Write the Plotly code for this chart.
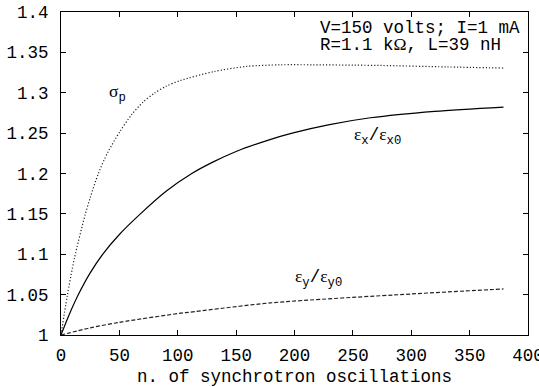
import plotly.graph_objects as go

# sigma_p (dotted)
sig_x = [0, 5.3, 11.5, 20.7, 25, 32, 40, 50.5, 60, 70, 80, 90, 102, 131, 159, 188, 216, 250, 274, 330, 379]
sig_y = [1.0, 1.048, 1.095, 1.149, 1.170, 1.20, 1.226, 1.252, 1.272, 1.288, 1.2995, 1.308, 1.315, 1.3262, 1.3326, 1.3346, 1.3346, 1.3342, 1.3338, 1.332, 1.3306]

# eps_x / eps_x0 (solid)
ex_x = [0, 7, 15, 25, 36, 50, 68, 90, 112, 130, 150, 179, 198, 230, 265, 320, 379]
ex_y = [1.0, 1.0252, 1.0504, 1.0769, 1.1006, 1.1245, 1.150, 1.178, 1.200, 1.2141, 1.2273, 1.2420, 1.25, 1.2605, 1.2690, 1.2770, 1.2823]

# eps_y / eps_y0 (dashed)
ey_x = [0, 25, 50, 100, 115, 179, 300, 379]
ey_y = [1.0, 1.0088, 1.0157, 1.0265, 1.029, 1.0397, 1.0508, 1.057]

x_ticks = [0, 50, 100, 150, 200, 250, 300, 350, 400]
y_ticks = [1.0, 1.05, 1.1, 1.15, 1.2, 1.25, 1.3, 1.35, 1.4]
y_tick_text = ["1", "1.05", "1.1", "1.15", "1.2", "1.25", "1.3", "1.35", "1.4"]

MONO = "Liberation Mono"
SERIF = "Liberation Serif"
FS = 17.5

fig = go.Figure()
fig.add_trace(go.Scatter(x=sig_x, y=sig_y, mode="lines", line=dict(color="#222", width=1.2, dash="1.2px,2px", shape="spline", smoothing=0.8)))
fig.add_trace(go.Scatter(x=ex_x, y=ex_y, mode="lines", line=dict(color="black", width=1.2, shape="spline", smoothing=0.8)))
fig.add_trace(go.Scatter(x=ey_x, y=ey_y, mode="lines", line=dict(color="#222", width=1.2, dash="4px,2px", shape="spline", smoothing=0.8)))

def g(ch):
    return f"<span style='font-family:{SERIF}'>{ch}</span>"

annos = [
    dict(x=48.7, y=1.300, text=g("σ") + "<sub>p</sub>"),
    dict(x=271.4, y=1.247, text=g("ε") + "<sub>x</sub>/" + g("ε") + "<sub>x0</sub>"),
    dict(x=220.4, y=1.071, text=g("ε") + "<sub>y</sub>/" + g("ε") + "<sub>y0</sub>"),
]
for a in annos:
    fig.add_annotation(x=a["x"], y=a["y"], text=a["text"], showarrow=False,
                       xanchor="center", yanchor="middle",
                       font=dict(family=MONO, size=FS, color="black"))

fig.add_annotation(x=220.0, y=1.3804, text="V=150 volts; I=1 mA", showarrow=False,
                   xanchor="left", yanchor="middle", font=dict(family=MONO, size=FS, color="black"))
fig.add_annotation(x=220.0, y=1.3594, text="R=1.1 k" + g("Ω") + ", L=39 nH", showarrow=False,
                   xanchor="left", yanchor="middle", font=dict(family=MONO, size=FS, color="black"))

axis_common = dict(showline=True, linecolor="black", linewidth=1, mirror="ticks",
                   ticks="inside", ticklen=5, tickcolor="black", tickwidth=1,
                   showgrid=False, zeroline=False, ticklabeloverflow="allow",
                   tickfont=dict(family=MONO, size=FS, color="black"))

fig.update_xaxes(range=[0, 400], tickvals=x_ticks, ticktext=[str(v) for v in x_ticks],
                 title=dict(text="n. of synchrotron oscillations", font=dict(family=MONO, size=FS, color="black"), standoff=9),
                 ticklabelstandoff=4, automargin=False, **axis_common)
fig.update_yaxes(range=[1, 1.4], tickvals=y_ticks, ticktext=y_tick_text,
                 ticklabelstandoff=8, automargin=False, **axis_common)

fig.update_layout(width=539, height=387, showlegend=False,
                  margin=dict(l=61, r=11, t=12, b=52),
                  paper_bgcolor="white", plot_bgcolor="white")

fig.write_html("out.html", config={"displayModeBar": False},
               post_script="document.body.style.margin='0';document.body.style.overflow='hidden';")
